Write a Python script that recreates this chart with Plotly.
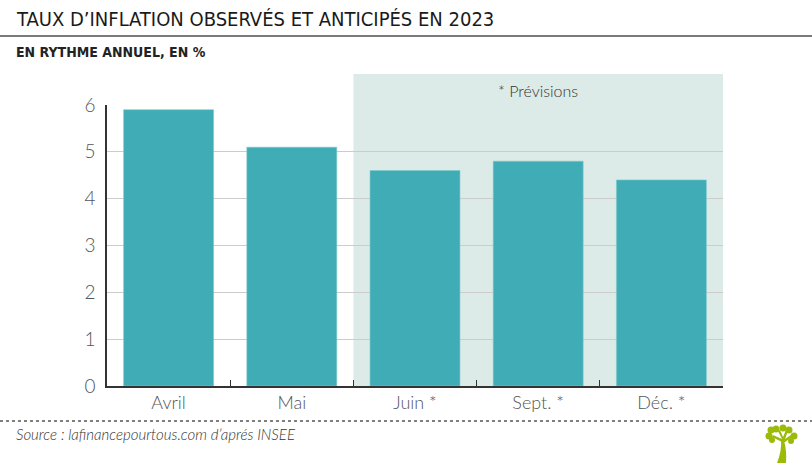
import plotly.graph_objects as go

categories = ["Avril", "Mai", "Juin *", "Sept. *", "Déc. *"]
values = [5.9, 5.1, 4.6, 4.8, 4.4]
y_ticks = [0, 1, 2, 3, 4, 5, 6]

W, H = 812, 463
L, R, T, B = 107, 89, 105, 77
PW, PH = W - L - R, H - T - B

def px(x):
    return (x - L) / PW

def py(y):
    return (H - B - y) / PH

COND = "DejaVu Sans Condensed, Roboto, sans-serif"
LIGHT = "Lato, Roboto, sans-serif"
GREEN = "#9bbb0a"

fig = go.Figure()
fig.add_trace(go.Bar(
    x=categories, y=values, width=0.73,
    marker=dict(color="#3facb6", line=dict(color="#7cc9cf", width=0.6)),
    hoverinfo="x+y",
))

shapes = [
    dict(type="rect", xref="paper", yref="paper", x0=0.4, x1=1.0, y0=0, y1=py(74),
         fillcolor="#dcebe7", line=dict(width=0), layer="below"),
    dict(type="line", xref="paper", yref="paper", x0=px(0), x1=px(W), y0=py(36), y1=py(36),
         line=dict(color="#7a7a7a", width=2)),
    dict(type="line", xref="paper", yref="paper", x0=px(0), x1=px(W), y0=py(421), y1=py(421),
         line=dict(color="#555555", width=1.5, dash="dot")),
    dict(type="path", xref="paper", yref="paper",
         path=f"M {px(777)},{py(463)} Q {px(782)},{py(450)} {px(781)},{py(440)} L {px(784)},{py(440)} Q {px(787)},{py(452)} {px(786)},{py(463)} Z",
         fillcolor=GREEN, line=dict(width=0)),
    dict(type="path", xref="paper", yref="paper",
         path=f"M {px(782)},{py(442)} L {px(772)},{py(437)} L {px(773)},{py(435)} L {px(782)},{py(439)} L {px(778)},{py(431)} L {px(780)},{py(430)} L {px(783)},{py(437)} L {px(786)},{py(430)} L {px(788)},{py(431)} L {px(785)},{py(439)} L {px(791)},{py(435)} L {px(792)},{py(437)} L {px(785)},{py(442)} Z",
         fillcolor=GREEN, line=dict(width=0)),
]
for cx, cy, r in [(769, 436, 3.5), (771, 430, 3.5), (776, 429, 3.5), (783, 428, 3.5), (789, 430, 3.5), (794, 436, 3.5), (772, 440, 3), (791, 441, 3)]:
    shapes.append(dict(type="circle", xref="paper", yref="paper",
                       x0=px(cx - r), x1=px(cx + r), y0=py(cy + r), y1=py(cy - r),
                       fillcolor=GREEN, line=dict(width=0)))

annotations = [
    dict(text="TAUX D’INFLATION OBSERVÉS ET ANTICIPÉS EN 2023", xref="paper", yref="paper",
         x=px(14), y=py(19), xanchor="left", yanchor="middle", showarrow=False,
         font=dict(family=COND, size=20, color="#1a1a1a")),
    dict(text="EN RYTHME ANNUEL, EN %", xref="paper", yref="paper",
         x=px(14), y=py(52), xanchor="left", yanchor="middle", showarrow=False,
         font=dict(family=COND, size=14, color="#222222", weight="bold")),
    dict(text="* Prévisions", xref="paper", yref="paper",
         x=0.7, y=py(90), xanchor="center", yanchor="middle", showarrow=False,
         font=dict(family=LIGHT, size=16, color="#333333", weight=300)),
    dict(text="<i>Source : lafinancepourtous.com d’aprés INSEE</i>", xref="paper", yref="paper",
         x=px(14), y=py(434), xanchor="left", yanchor="middle", showarrow=False,
         font=dict(family=LIGHT, size=15, color="#333333", weight=300)),
]

fig.update_layout(
    width=W, height=H,
    margin=dict(l=L, r=R, t=T, b=B, pad=0),
    paper_bgcolor="white", plot_bgcolor="rgba(0,0,0,0)",
    showlegend=False,
    shapes=shapes, annotations=annotations,
    xaxis=dict(type="category", tickson="boundaries", ticks="inside", ticklen=6,
               tickcolor="#333333", showgrid=False, showline=True, linecolor="#333333",
               linewidth=1.5, range=[-0.5, 4.5],
               tickfont=dict(family=LIGHT, size=18, color="#555555", weight=300)),
    yaxis=dict(range=[0, 6], tickvals=y_ticks, showgrid=True, gridcolor="#cccccc",
               gridwidth=1.2, showline=True, linecolor="#333333", linewidth=1.5,
               zeroline=False, ticks="", ticklabelstandoff=6,
               tickfont=dict(family=LIGHT, size=19, color="#555555", weight=300)),
)

fig.write_html("out.html", config={"displayModeBar": False},
               post_script="document.body.style.margin='0';document.body.style.padding='0';")
